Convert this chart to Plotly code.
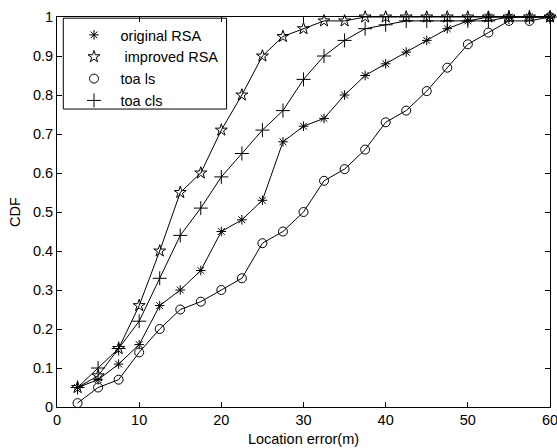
import plotly.graph_objects as go

# Location error (m) at which each CDF value is evaluated
error_m = [2.5, 5, 7.5, 10, 12.5, 15, 17.5, 20, 22.5, 25, 27.5, 30,
           32.5, 35, 37.5, 40, 42.5, 45, 47.5, 50, 52.5, 55, 57.5, 60]

cdf_original_rsa = [0.05, 0.07, 0.11, 0.16, 0.26, 0.30, 0.35, 0.45, 0.48, 0.53, 0.68, 0.72,
                    0.74, 0.80, 0.85, 0.88, 0.91, 0.94, 0.97, 0.99, 1.00, 1.00, 1.00, 1.00]
cdf_improved_rsa = [0.05, 0.08, 0.15, 0.26, 0.40, 0.55, 0.60, 0.71, 0.80, 0.90, 0.95, 0.97,
                    0.99, 0.99, 1.00, 1.00, 1.00, 1.00, 1.00, 1.00, 1.00, 1.00, 1.00, 1.00]
cdf_toa_ls = [0.01, 0.05, 0.07, 0.14, 0.20, 0.25, 0.27, 0.30, 0.33, 0.42, 0.45, 0.50,
              0.58, 0.61, 0.66, 0.73, 0.76, 0.81, 0.87, 0.93, 0.96, 0.99, 0.99, 1.00]
cdf_toa_cls = [0.05, 0.10, 0.15, 0.22, 0.33, 0.44, 0.51, 0.59, 0.65, 0.71, 0.76, 0.84,
               0.90, 0.94, 0.97, 0.98, 0.99, 0.99, 0.99, 0.99, 0.99, 1.00, 1.00, 1.00]

series_names = ["original RSA", " improved RSA", "toa ls", "toa cls"]
series_values = [cdf_original_rsa, cdf_improved_rsa, cdf_toa_ls, cdf_toa_cls]
series_symbols = ["asterisk-open", "star-open", "circle-open", "cross-thin-open"]
series_sizes = [8, 9, 9, 10]

x_ticks = [0, 10, 20, 30, 40, 50, 60]
y_ticks = [0, 0.1, 0.2, 0.3, 0.4, 0.5, 0.6, 0.7, 0.8, 0.9, 1]

INK = "#000000"
FONT = "Liberation Sans, Arial, sans-serif"
FS = 14.5

fig = go.Figure()

# connecting lines (kept out of the legend)
for name, vals in zip(series_names, series_values):
    fig.add_trace(go.Scatter(
        x=error_m, y=vals, mode="lines", showlegend=False, hoverinfo="skip",
        line=dict(color=INK, width=1), cliponaxis=False,
    ))

# markers, which also provide the legend entries
for name, vals, sym, sz in zip(series_names, series_values, series_symbols, series_sizes):
    fig.add_trace(go.Scatter(
        x=error_m, y=vals, mode="markers", name=name, cliponaxis=False,
        marker=dict(symbol=sym, size=sz, color=INK, line=dict(color=INK, width=1)),
    ))

axis_common = dict(
    showline=True, linecolor=INK, linewidth=1, mirror="ticks",
    ticks="inside", ticklen=5, tickwidth=1, tickcolor=INK,
    showgrid=False, zeroline=False,
    tickfont=dict(family=FONT, size=FS, color=INK),
    ticklabeloverflow="allow", automargin=False,
)

fig.update_layout(
    width=557, height=448,
    margin=dict(l=57, r=7, t=17, b=41, autoexpand=False),
    paper_bgcolor="white", plot_bgcolor="white",
    font=dict(family=FONT, size=FS, color=INK),
    xaxis=dict(range=[0, 60], tickvals=x_ticks, ticktext=[str(v) for v in x_ticks],
               title=dict(text="Location error(m)", font=dict(size=FS), standoff=6),
               **axis_common),
    yaxis=dict(range=[0, 1], tickvals=y_ticks, ticktext=[f"{v:g}" for v in y_ticks],
               title=dict(text="CDF", font=dict(size=FS), standoff=8),
               **axis_common),
    legend=dict(
        x=0.0213, y=0.995, xanchor="left", yanchor="top",
        bgcolor="rgba(0,0,0,0)", borderwidth=0,
        font=dict(family=FONT, size=FS, color=INK),
        itemwidth=43,
    ),
    # legend frame
    shapes=[dict(type="rect", xref="paper", yref="paper",
                 x0=0.0128, x1=0.344, y0=0.764, y1=0.997,
                 line=dict(color=INK, width=1), fillcolor="white", layer="below")],
)

fig.write_html("out.html")
